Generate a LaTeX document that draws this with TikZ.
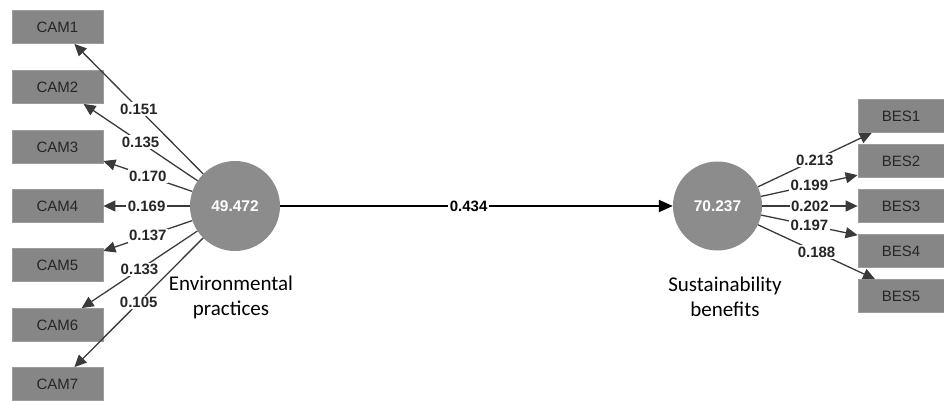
\documentclass[tikz,border=0pt]{standalone}
\usepackage{fontspec}
\setmainfont{Liberation Sans}
\newfontfamily\calibrilike{Carlito}
\usetikzlibrary{arrows.meta}
\definecolor{boxgray}{HTML}{868686}
\definecolor{boxedge}{HTML}{9C9C9C}
\definecolor{circgray}{HTML}{8C8C8C}
\definecolor{inktext}{HTML}{262626}
\definecolor{linegray}{HTML}{3A3A3A}
\tikzset{
  indicator/.style={rectangle, fill=boxgray, draw=boxedge, line width=0.8pt,
    minimum height=33pt, inner sep=0pt, text=inktext,
    font=\fontsize{15}{17}\selectfont},
  cambox/.style={indicator, minimum width=91pt},
  besbox/.style={indicator, minimum width=86pt},
  construct/.style={circle, fill=circgray, inner sep=0pt, minimum size=90pt,
    text=white, font=\fontsize{15.5}{18}\selectfont\bfseries},
  caption/.style={align=center, font=\calibrilike\fontsize{21}{25}\selectfont},
  loading/.style={draw=linegray, line width=1.3pt,
    -{Triangle[length=12pt,width=11pt]}},
  pathline/.style={draw=black, line width=2pt,
    -{Triangle[length=14pt,width=12pt]}},
  weight/.style={fill=white, inner sep=1.5pt, text=inktext,
    font=\fontsize{15}{17}\selectfont\bfseries, pos=0.5},
}
\begin{document}
\begin{tikzpicture}[x=1pt, y=-1pt]
\useasboundingbox (0,0) rectangle (944,401);

% indicator boxes of the first construct
\node[cambox] (cam1) at (57.5,27)  {CAM1};
\node[cambox] (cam2) at (57.5,87)  {CAM2};
\node[cambox] (cam3) at (57.5,147) {CAM3};
\node[cambox] (cam4) at (57.5,206) {CAM4};
\node[cambox] (cam5) at (57.5,265) {CAM5};
\node[cambox] (cam6) at (57.5,325) {CAM6};
\node[cambox] (cam7) at (57.5,384) {CAM7};

% indicator boxes of the second construct
\node[besbox] (bes1) at (901,116) {BES1};
\node[besbox] (bes2) at (901,161) {BES2};
\node[besbox] (bes3) at (901,206) {BES3};
\node[besbox] (bes4) at (901,251) {BES4};
\node[besbox] (bes5) at (901,296) {BES5};

% constructs
\node[construct] (ep) at (235,206) {49.472};
\node[construct, minimum size=89pt] (sb) at (717.5,206) {70.237};

\node[caption] (eplabel) at (231,297) {Environmental\\practices};
\node[caption] (sblabel) at (725,297) {Sustainability\\benefits};

% outer weights
\draw[loading] (ep) -- node[weight]{0.151} (cam1.-45);
\draw[loading] (ep) -- node[weight]{0.135} (cam2.-33);
\draw[loading] (ep) -- node[weight]{0.170} (cam3.-17);
\draw[loading] (ep) -- node[weight]{0.169} (cam4.0);
\draw[loading] (ep) -- node[weight]{0.137} (cam5.17);
\draw[loading] (ep) -- node[weight]{0.133} (cam6.35);
\draw[loading] (ep) -- node[weight]{0.105} (cam7.45);

\draw[loading] (sb) -- node[weight]{0.213} (bes1.-150);
\draw[loading] (sb) -- node[weight]{0.199} (bes2.-162);
\draw[loading] (sb) -- node[weight]{0.202} (bes3.180);
\draw[loading] (sb) -- node[weight]{0.197} (bes4.160);
\draw[loading] (sb) -- node[weight]{0.188} (bes5.147);

% structural path
\draw[pathline] (ep) -- node[weight, text=black, pos=0.48]{0.434} (sb);
\end{tikzpicture}
\end{document}
